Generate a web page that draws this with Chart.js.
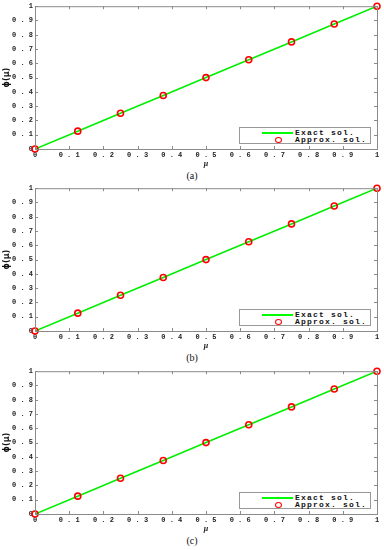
<!DOCTYPE html>
<html><head><meta charset="utf-8">
<script src="https://cdn.jsdelivr.net/npm/chart.js@4/dist/chart.umd.min.js"></script>
<style>
html,body{margin:0;padding:0;background:#fff;width:384px;height:550px;overflow:hidden;}
.panel{position:absolute;left:0;width:384px;height:170px;}
.panel canvas{display:block;}
.cap{position:absolute;left:0;width:384px;text-align:center;font:10px "Liberation Serif",serif;color:#111;}
.leg{position:absolute;left:239px;width:130px;height:15px;border:1px solid #999;background:#fff;
 font:bold 8px "Liberation Mono",monospace;letter-spacing:1.2px;color:#111;}
.leg .row{position:absolute;left:55px;line-height:7px;white-space:nowrap;}
.leg .ln{position:absolute;left:22px;width:31px;height:2px;background:#00ff00;}
.leg .mk{position:absolute;left:35px;width:5px;height:4px;border:1.5px solid #ff0000;border-radius:50%;}
</style></head>
<body>
<script>
const mu = [0, 0.125, 0.25, 0.375, 0.5, 0.625, 0.75, 0.875, 1];
const exactSol = [0, 0.125, 0.25, 0.375, 0.5, 0.625, 0.75, 0.875, 1];
const approxSol = [0, 0.125, 0.25, 0.375, 0.5, 0.625, 0.75, 0.875, 1];
const panelLabels = ['(a)', '(b)', '(c)'];
const seriesNames = ['Exact sol.', 'Approx. sol.'];
const xTitle = 'μ';
const yTitle = 'ϕ(μ)';

const panelTops = [0, 182, 365];

const innerTicks = {
  id: 'innerTicks',
  afterDraw(chart) {
    const {ctx, chartArea: a, scales} = chart;
    ctx.save();
    ctx.strokeStyle = '#8a8a8a';
    ctx.lineWidth = 1;
    ctx.strokeRect(a.left + 0.5, a.top + 0.5, a.right - a.left, a.bottom - a.top);
    ctx.beginPath();
    scales.x.ticks.forEach((t, i) => {
      const px = Math.round(scales.x.getPixelForTick(i)) + 0.5;
      ctx.moveTo(px, a.bottom); ctx.lineTo(px, a.bottom - 3);
      ctx.moveTo(px, a.top); ctx.lineTo(px, a.top + 3);
    });
    scales.y.ticks.forEach((t, i) => {
      const py = Math.round(scales.y.getPixelForTick(i)) + 0.5;
      ctx.moveTo(a.left, py); ctx.lineTo(a.left + 3, py);
      ctx.moveTo(a.right, py); ctx.lineTo(a.right - 3, py);
    });
    ctx.stroke();
    ctx.restore();
  }
};

function fmt(v) {
  return String(Math.round(v * 10) / 10).split('').join(' ');
}

panelTops.forEach((top, k) => {
  const div = document.createElement('div');
  div.className = 'panel';
  div.style.top = top + 'px';
  const cv = document.createElement('canvas');
  cv.width = 384; cv.height = 170;
  cv.style.width = '384px'; cv.style.height = '170px';
  div.appendChild(cv);
  document.body.appendChild(div);

  const leg = document.createElement('div');
  leg.className = 'leg';
  leg.style.top = (top + 127) + 'px';
  leg.innerHTML =
    '<div class="ln" style="top:4px"></div><div class="row" style="top:1px">' + seriesNames[0] + '</div>' +
    '<div class="mk" style="top:8.5px"></div><div class="row" style="top:8px">' + seriesNames[1] + '</div>';
  document.body.appendChild(leg);

  const cap = document.createElement('div');
  cap.className = 'cap';
  cap.style.top = (top + 170) + 'px';
  cap.textContent = panelLabels[k];
  document.body.appendChild(cap);

  const tickFont = {family: '"Liberation Mono", monospace', size: 7, weight: 'bold'};
  new Chart(cv, {
    type: 'scatter',
    data: {
      datasets: [
        {
          label: seriesNames[1],
          data: mu.map((x, i) => ({x, y: approxSol[i]})),
          showLine: false,
          pointRadius: 3,
          pointBorderWidth: 1.6,
          pointBorderColor: '#ff0000',
          pointBackgroundColor: 'rgba(0,0,0,0)',
          clip: false,
          order: 0
        },
        {
          label: seriesNames[0],
          data: mu.map((x, i) => ({x, y: exactSol[i]})),
          showLine: true,
          borderColor: '#00ee00',
          borderWidth: 1.6,
          pointRadius: 0,
          order: 1
        }
      ]
    },
    options: {
      responsive: false,
      animation: false,
      devicePixelRatio: 1,
      layout: {padding: {left: 0, right: 7, top: 5, bottom: 0}},
      plugins: {legend: {display: false}, tooltip: {enabled: false}},
      scales: {
        x: {
          type: 'linear', min: 0, max: 1,
          grid: {display: false, drawTicks: false},
          border: {display: false},
          ticks: {stepSize: 0.1, font: tickFont, color: '#222', padding: 2, maxRotation: 0, autoSkip: false, callback: fmt},
          title: {display: true, text: xTitle, font: {family: '"Liberation Serif", serif', size: 8, weight: 'bold', style: 'italic'}, color: '#111', padding: {top: 0, bottom: 1}},
          afterFit(s) { s.height = 21; }
        },
        y: {
          type: 'linear', min: 0, max: 1,
          grid: {display: false, drawTicks: false},
          border: {display: false},
          ticks: {stepSize: 0.1, font: tickFont, color: '#222', padding: 2, autoSkip: false, callback: fmt},
          title: {display: true, text: yTitle, font: {family: '"DejaVu Sans", sans-serif', size: 8, weight: 'bold'}, color: '#111', padding: {top: 2, bottom: 0}},
          afterFit(s) { s.width = 35; }
        }
      }
    },
    plugins: [innerTicks]
  });
});
</script>
</body></html>
